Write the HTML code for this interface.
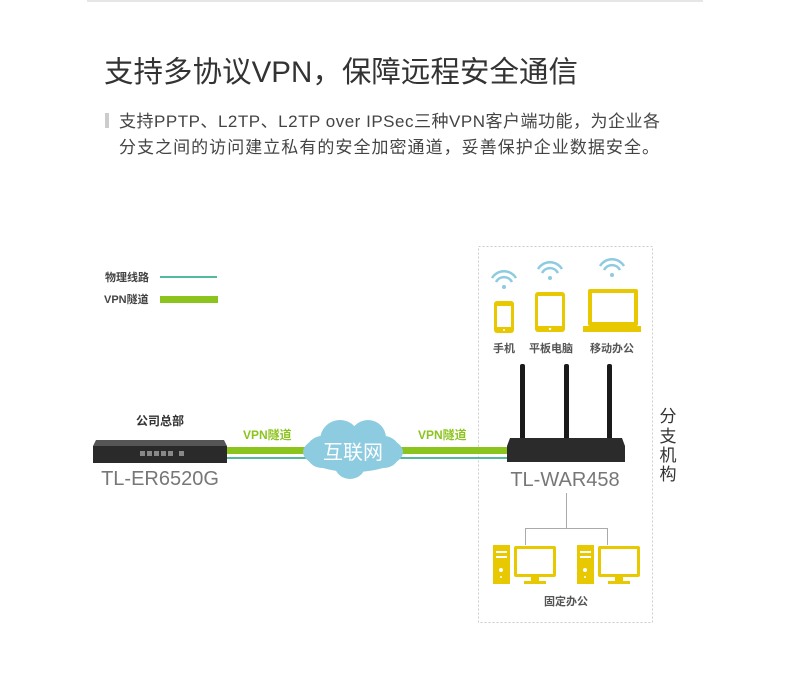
<!DOCTYPE html>
<html><head><meta charset="utf-8"><style>
body{margin:0;background:#fff;width:790px;height:668px;overflow:hidden}
svg text{font-family:"Liberation Sans","Noto Sans CJK SC",sans-serif}
</style></head><body>
<svg width="790" height="668" viewBox="0 0 790 668" xmlns="http://www.w3.org/2000/svg">
<line x1="87" y1="1" x2="703" y2="1" stroke="#ccc"/>
<text x="104" y="82" font-size="29.5" fill="#333" textLength="474" lengthAdjust="spacing">支持多协议VPN，保障远程安全通信</text>
<rect x="105" y="113" width="4" height="15" fill="#ccc"/>
<text x="119" y="127" font-size="17" fill="#444" textLength="541" lengthAdjust="spacing">支持PPTP、L2TP、L2TP over IPSec三种VPN客户端功能，为企业各</text>
<text x="119" y="153" font-size="17" fill="#444" textLength="540" lengthAdjust="spacing">分支之间的访问建立私有的安全加密通道，妥善保护企业数据安全。</text>
<!-- legend -->
<text x="105" y="281" font-size="11" font-weight="bold" fill="#444">物理线路</text>
<line x1="160" y1="277" x2="217" y2="277" stroke="#1aa37f" stroke-width="1.5"/>
<text x="104" y="303" font-size="11" font-weight="bold" fill="#444">VPN隧道</text>
<rect x="160" y="296" width="58" height="7" fill="#8cc41e"/>
<!-- dashed box -->
<rect x="478.5" y="246.5" width="174" height="376" fill="none" stroke="#ccc" stroke-dasharray="2,2"/>
<!-- lines -->
<rect x="226" y="447" width="284" height="7" fill="#8cc41e"/>
<line x1="226" y1="458" x2="510" y2="458" stroke="#1aa37f" stroke-width="1.5"/>
<text x="243" y="439" font-size="12" font-weight="bold" fill="#8cc41e">VPN隧道</text>
<text x="418" y="439" font-size="12" font-weight="bold" fill="#8cc41e">VPN隧道</text>
<!-- cloud -->
<g fill="#8ccbe0">
<ellipse cx="353" cy="452" rx="50" ry="20"/>
<circle cx="340" cy="440" r="20"/><circle cx="368" cy="438" r="18"/>
<circle cx="322" cy="452" r="16"/><circle cx="384" cy="452" r="16"/>
<circle cx="350" cy="463" r="16"/>
</g>
<text x="353" y="459" font-size="20" fill="#fff" text-anchor="middle">互联网</text>
<!-- left router -->
<text x="160" y="425" font-size="12" font-weight="bold" fill="#333" text-anchor="middle">公司总部</text>
<path d="M96 440 L224 440 L227 446 L93 446 Z" fill="#555"/>
<rect x="93" y="446" width="134" height="17" fill="#2a2a2a"/>
<g fill="#888"><rect x="140" y="451" width="5" height="5"/><rect x="147" y="451" width="5" height="5"/><rect x="154" y="451" width="5" height="5"/><rect x="161" y="451" width="5" height="5"/><rect x="168" y="451" width="5" height="5"/><rect x="179" y="451" width="5" height="5"/></g>
<text x="160" y="485" font-size="20" fill="#777" text-anchor="middle">TL-ER6520G</text>
<!-- right router -->
<g fill="#1a1a1a"><rect x="520" y="364" width="5" height="76" rx="2"/><rect x="564" y="364" width="5" height="76" rx="2"/><rect x="607" y="364" width="5" height="76" rx="2"/></g>
<path d="M510 438 L622 438 L625 446 L625 462 L507 462 L507 446 Z" fill="#2b2b2b"/>
<text x="565" y="486" font-size="20" fill="#777" text-anchor="middle">TL-WAR458</text>
<g font-size="17" fill="#333" text-anchor="middle"><text x="668" y="422">分</text><text x="668" y="442">支</text><text x="668" y="461">机</text><text x="668" y="480">构</text></g>
<!-- wifi -->
<g fill="none" stroke="#8ccbe0" stroke-width="2.5">
<path d="M492 278 a14 14 0 0 1 24 0"/><path d="M496 282 a9 9 0 0 1 16 0"/>
<path d="M538 269 a14 14 0 0 1 24 0"/><path d="M542 273 a9 9 0 0 1 16 0"/>
<path d="M600 266 a14 14 0 0 1 24 0"/><path d="M604 270 a9 9 0 0 1 16 0"/>
</g>
<g fill="#8ccbe0"><circle cx="504" cy="287" r="2"/><circle cx="550" cy="278" r="2"/><circle cx="612" cy="275" r="2"/></g>
<!-- devices -->
<g fill="#e8c800">
<rect x="494" y="301" width="20" height="32" rx="3"/>
<rect x="535" y="292" width="30" height="40" rx="3"/>
<rect x="588" y="289" width="50" height="37" rx="2"/>
<rect x="583" y="326" width="58" height="6"/>
</g>
<g fill="#fff">
<rect x="497" y="306" width="14" height="21"/>
<rect x="538" y="296" width="24" height="30"/>
<rect x="592" y="293" width="42" height="29"/>
<circle cx="504" cy="330" r="1"/><circle cx="550" cy="329" r="1.2"/>
</g>
<g font-size="11" font-weight="bold" fill="#555" text-anchor="middle"><text x="504" y="352">手机</text><text x="551" y="352">平板电脑</text><text x="612" y="352">移动办公</text></g>
<!-- tree -->
<g stroke="#aaa" fill="none"><path d="M566.5 493 V528.5 H525.5 V545"/><path d="M566.5 528.5 H607.5 V545"/></g>
<!-- computers -->
<g fill="#e8c800">
<rect x="493" y="545" width="17" height="39"/>
<rect x="514" y="546" width="42" height="31" rx="2"/>
<rect x="531" y="577" width="8" height="4"/><rect x="524" y="581" width="22" height="3"/>
</g>
<g fill="#fff"><rect x="517" y="549" width="36" height="25"/><rect x="496" y="551" width="11" height="2"/><rect x="496" y="556" width="11" height="2"/><circle cx="501" cy="570" r="2"/><circle cx="501" cy="577" r="1"/></g>
<g transform="translate(84,0)">
<g fill="#e8c800"><rect x="493" y="545" width="17" height="39"/><rect x="514" y="546" width="42" height="31" rx="2"/><rect x="531" y="577" width="8" height="4"/><rect x="524" y="581" width="22" height="3"/></g>
<g fill="#fff"><rect x="517" y="549" width="36" height="25"/><rect x="496" y="551" width="11" height="2"/><rect x="496" y="556" width="11" height="2"/><circle cx="501" cy="570" r="2"/><circle cx="501" cy="577" r="1"/></g>
</g>
<text x="566" y="605" font-size="11" font-weight="bold" fill="#555" text-anchor="middle">固定办公</text>
</svg>
</body></html>
